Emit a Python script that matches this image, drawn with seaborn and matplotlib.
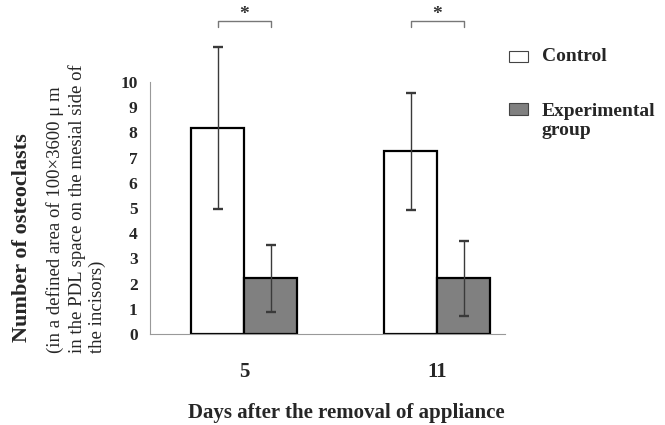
import matplotlib
matplotlib.use("Agg")
import matplotlib.pyplot as plt
from matplotlib.patches import Rectangle
import numpy as np
import pandas as pd
import seaborn as sns

# values (mean +/- SD)
days = ["5", "11"]
groups = ["Control", "Experimental\ngroup"]
control_mean = [8.17, 7.25]
control_sd = [3.2, 2.32]
exp_mean = [2.21, 2.21]
exp_sd = [1.33, 1.48]
signif = ["*", "*"]

df = pd.DataFrame({
    "day": days * 2,
    "group": [groups[0]] * 2 + [groups[1]] * 2,
    "mean": control_mean + exp_mean,
    "sd": control_sd + exp_sd,
})

sns.set_style("white")
plt.rcParams["font.family"] = ["Liberation Serif", "DejaVu Serif"]

colors = ["#ffffff", "#808080"]

fig = plt.figure(figsize=(6.65, 4.25), dpi=100)
ax = fig.add_axes([0.2256, 0.214, 0.534, 0.786])

sns.barplot(data=df, x="day", y="mean", hue="group", order=days, hue_order=groups,
            palette=colors, edgecolor="black", linewidth=1.6, width=0.55,
            errorbar=None, legend=False, ax=ax)

# error bars on the bar centres
centres = {}
for grp, cont in zip(groups, ax.containers):
    sub = df[df.group == grp].set_index("day").loc[days]
    xs = [b.get_x() + b.get_width() / 2 for b in cont]
    centres[grp] = xs
    ax.errorbar(xs, sub["mean"], yerr=sub["sd"], fmt="none", ecolor="#3a3a3a",
                elinewidth=1.0, capsize=3.5, capthick=1.7, zorder=3)

# significance brackets
br_y = 12.4
for i, s in enumerate(signif):
    x0, x1 = centres[groups[0]][i], centres[groups[1]][i]
    ax.plot([x0, x0, x1, x1], [br_y - 0.22, br_y, br_y, br_y - 0.22],
            color="#777777", lw=1.0, clip_on=False)
    ax.text((x0 + x1) / 2, br_y + 0.08, s, ha="center", va="baseline",
            fontsize=14, fontweight="bold", color="#333333")

ax.set_xlim(-0.487, 1.352)
ax.set_ylim(0, 13.25)
ax.set_yticks(range(0, 11))
ax.set_xlabel("")
ax.set_ylabel("")
ax.tick_params(axis="y", direction="in", length=3.6, width=0.8, color="#999999",
               labelsize=12.5, pad=9)
ax.tick_params(axis="x", length=0, labelsize=15, pad=20)
for lab in ax.get_xticklabels() + ax.get_yticklabels():
    lab.set_fontweight("bold")

sns.despine(ax=ax, top=True, right=True)
ax.spines["left"].set_bounds(0, 10)
ax.spines["left"].set_color("#999999")
ax.spines["left"].set_linewidth(0.8)
ax.spines["bottom"].set_color("#999999")
ax.spines["bottom"].set_linewidth(0.8)

fig.text(0.521, 0.028, "Days after the removal of appliance", ha="center", va="center",
         fontsize=15, fontweight="bold")
fig.text(0.033, 0.442, "Number of osteoclasts", rotation=90, ha="center", va="center",
         fontsize=16, fontweight="bold")
fig.text(0.115, 0.17,
         "(in a defined area of 100\u00d73600 \u03bc m\nin the PDL space on the mesial side of\nthe incisors)",
         rotation=90, ha="center", va="bottom", multialignment="left", fontsize=13.5,
         linespacing=1.25)

# legend drawn as boxes and text at the right
patch_y = [0.867, 0.7435]
text_y = [0.868, 0.715]
for lab, col, py, ty in zip(groups, colors, patch_y, text_y):
    fig.patches.append(Rectangle((0.766, py - 0.013), 0.028, 0.026, transform=fig.transFigure,
                                 facecolor=col, edgecolor="#444444", lw=0.8))
    fig.text(0.815, ty, lab, ha="left", va="center",
             fontsize=14, fontweight="bold", linespacing=1.2)

fig.savefig("out.png", dpi=100)
